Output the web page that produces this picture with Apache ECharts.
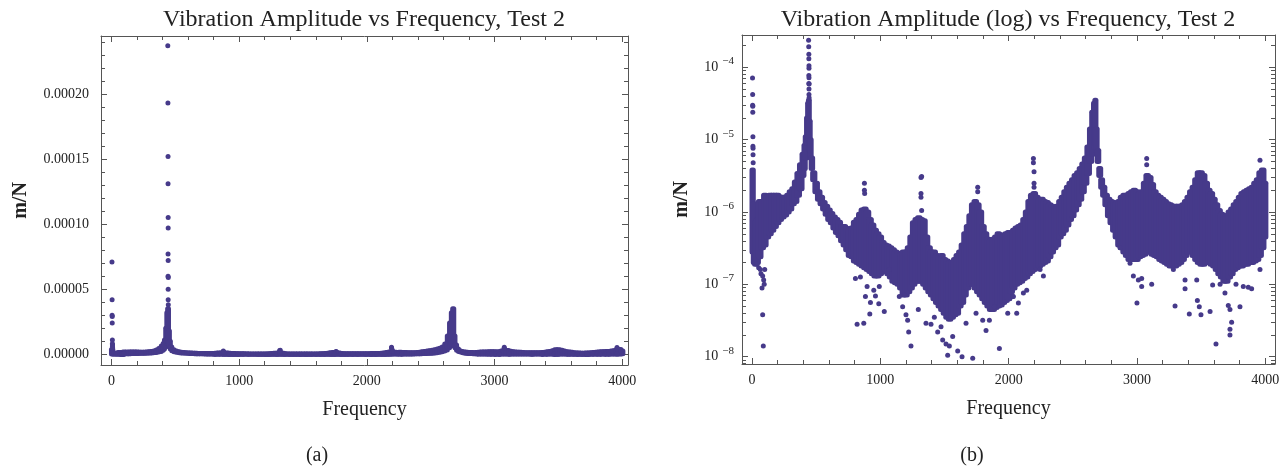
<!DOCTYPE html>
<html><head><meta charset="utf-8">
<script src="https://cdn.jsdelivr.net/npm/echarts@6/dist/echarts.min.js"></script>
<style>html,body{margin:0;padding:0;background:#fff}#c{width:1282px;height:469px}</style>
</head><body><div id="c"></div>
<script>
// ---- data (m/N vs Hz) ----
const bandFreq = [5,15,25,40,60,80,100,120,140,160,180,200,220,240,260,280,300,320,340,360,380,400,410,420,430,437,443,450,457,465,480,500,520,540,560,580,600,620,640,660,680,700,720,740,760,780,800,820,840,860,880,900,920,940,960,980,1000,1020,1040,1060,1080,1100,1120,1140,1160,1180,1200,1220,1240,1260,1280,1300,1320,1340,1360,1380,1400,1420,1440,1460,1480,1500,1520,1540,1560,1580,1600,1620,1640,1660,1680,1700,1720,1740,1760,1780,1800,1820,1840,1860,1880,1900,1920,1940,1960,1980,2000,2020,2040,2060,2080,2100,2120,2140,2160,2180,2200,2220,2240,2260,2280,2300,2320,2340,2360,2380,2400,2420,2440,2460,2480,2500,2520,2540,2560,2580,2600,2620,2640,2655,2668,2676,2685,2695,2710,2725,2740,2760,2780,2800,2820,2840,2860,2880,2900,2920,2940,2960,2980,3000,3020,3040,3060,3080,3100,3120,3140,3160,3180,3200,3220,3240,3260,3280,3300,3320,3340,3360,3380,3400,3420,3440,3460,3480,3500,3520,3540,3560,3580,3600,3620,3640,3660,3680,3700,3720,3740,3760,3780,3800,3820,3840,3860,3880,3900,3920,3940,3960,3980,4000];
const bandLow = [2.8e-7,2.0e-7,1.9e-7,2.0e-7,2.4e-7,3.2e-7,3.5e-7,4.5e-7,5.0e-7,5.6e-7,6.3e-7,7.1e-7,7.9e-7,8.5e-7,9.1e-7,1.0e-6,1.1e-6,1.3e-6,1.4e-6,1.7e-6,2.1e-6,3.2e-6,4.0e-6,5.6e-6,8.9e-6,1.0e-5,1.0e-5,7.1e-6,5.6e-6,4.0e-6,2.8e-6,1.9e-6,1.5e-6,1.3e-6,1.1e-6,9.3e-7,7.9e-7,7.1e-7,6.0e-7,5.2e-7,4.7e-7,4.0e-7,3.5e-7,3.0e-7,2.5e-7,2.4e-7,2.1e-7,2.0e-7,1.9e-7,1.8e-7,1.7e-7,1.6e-7,1.5e-7,1.4e-7,1.3e-7,1.3e-7,1.4e-7,1.5e-7,1.6e-7,1.4e-7,1.26e-7,1.1e-7,1.05e-7,1.0e-7,8.9e-8,7.1e-8,7.1e-8,7.9e-8,8.9e-8,1.0e-7,1.1e-7,1.1e-7,1.1e-7,1.0e-7,8.9e-8,7.9e-8,7.1e-8,6.3e-8,5.6e-8,5.0e-8,4.5e-8,4.0e-8,3.5e-8,3.3e-8,3.5e-8,3.8e-8,4.0e-8,5.0e-8,5.6e-8,7.1e-8,8.9e-8,1.0e-7,1.0e-7,8.9e-8,7.9e-8,7.1e-8,6.3e-8,5.6e-8,5.0e-8,4.5e-8,4.5e-8,4.8e-8,5.0e-8,5.2e-8,5.6e-8,6.0e-8,6.3e-8,7.9e-8,8.9e-8,1.0e-7,1.05e-7,1.1e-7,1.2e-7,1.26e-7,1.4e-7,1.5e-7,1.6e-7,1.7e-7,1.8e-7,1.9e-7,2.0e-7,2.1e-7,2.4e-7,2.8e-7,3.2e-7,3.5e-7,4.5e-7,5.0e-7,5.6e-7,6.6e-7,7.9e-7,8.9e-7,1.07e-6,1.26e-6,1.5e-6,1.9e-6,2.5e-6,3.4e-6,5.0e-6,6.3e-6,7.9e-6,8.9e-6,7.1e-6,5.0e-6,3.2e-6,2.2e-6,1.7e-6,1.26e-6,8.9e-7,7.1e-7,5.6e-7,4.5e-7,3.5e-7,3.2e-7,2.8e-7,2.5e-7,2.2e-7,2.2e-7,2.2e-7,2.2e-7,2.4e-7,2.5e-7,2.6e-7,2.8e-7,2.8e-7,2.6e-7,2.5e-7,2.4e-7,2.2e-7,2.1e-7,2.0e-7,1.9e-7,1.8e-7,1.8e-7,1.8e-7,1.9e-7,2.0e-7,2.2e-7,2.5e-7,2.8e-7,2.8e-7,2.5e-7,2.2e-7,2.0e-7,1.9e-7,1.9e-7,2.0e-7,2.0e-7,1.9e-7,1.8e-7,1.6e-7,1.4e-7,1.26e-7,1.1e-7,1.1e-7,1.26e-7,1.4e-7,1.6e-7,1.7e-7,1.8e-7,1.8e-7,1.9e-7,1.9e-7,2.0e-7,2.0e-7,2.1e-7,2.2e-7,2.5e-7,3.2e-7,4.5e-7];
const bandHigh = [3.8e-6,1.3e-6,7.1e-7,7.9e-7,1.4e-6,1.4e-6,1.7e-6,1.6e-6,1.7e-6,1.7e-6,1.7e-6,1.7e-6,1.6e-6,1.6e-6,1.6e-6,1.7e-6,1.9e-6,2.1e-6,2.6e-6,3.4e-6,4.5e-6,6.3e-6,8.3e-6,1.1e-5,2.0e-5,3.2e-5,3.5e-5,1.8e-5,1.0e-5,5.6e-6,3.5e-6,2.5e-6,1.9e-6,1.6e-6,1.35e-6,1.2e-6,1.07e-6,9.5e-7,8.5e-7,7.9e-7,7.2e-7,6.3e-7,6.3e-7,5.9e-7,5.6e-7,6.0e-7,7.2e-7,7.9e-7,9.3e-7,1.07e-6,1.1e-6,1.0e-6,7.9e-7,6.6e-7,5.6e-7,5.0e-7,4.5e-7,3.8e-7,3.5e-7,3.4e-7,3.2e-7,3.0e-7,2.8e-7,2.7e-7,2.6e-7,2.8e-7,2.8e-7,3.2e-7,4.5e-7,7.1e-7,7.9e-7,8.3e-7,7.9e-7,7.6e-7,4.5e-7,3.2e-7,2.8e-7,2.8e-7,2.5e-7,2.4e-7,2.5e-7,2.2e-7,2.1e-7,2.0e-7,2.0e-7,2.2e-7,2.5e-7,2.8e-7,3.5e-7,5.0e-7,6.3e-7,8.9e-7,1.26e-6,1.4e-6,1.26e-6,1.0e-6,6.3e-7,5.0e-7,4.2e-7,4.0e-7,4.2e-7,4.5e-7,5.0e-7,4.8e-7,4.7e-7,5.0e-7,5.2e-7,5.2e-7,5.6e-7,6.0e-7,6.3e-7,6.6e-7,7.9e-7,1.0e-6,1.4e-6,1.7e-6,1.8e-6,1.6e-6,1.45e-6,1.5e-6,1.4e-6,1.35e-6,1.26e-6,1.2e-6,1.15e-6,1.2e-6,1.4e-6,1.6e-6,1.9e-6,2.2e-6,2.5e-6,2.8e-6,3.2e-6,3.5e-6,4.0e-6,4.6e-6,5.6e-6,7.9e-6,1.4e-5,2.4e-5,3.2e-5,3.5e-5,1.4e-5,7.1e-6,4.0e-6,2.8e-6,2.2e-6,1.7e-6,1.5e-6,1.4e-6,1.35e-6,1.3e-6,1.4e-6,1.6e-6,1.7e-6,1.7e-6,1.8e-6,1.9e-6,2.0e-6,1.9e-6,1.8e-6,1.9e-6,2.5e-6,3.2e-6,3.0e-6,2.4e-6,1.9e-6,1.7e-6,1.6e-6,1.5e-6,1.4e-6,1.3e-6,1.26e-6,1.2e-6,1.2e-6,1.2e-6,1.2e-6,1.26e-6,1.4e-6,1.6e-6,1.9e-6,2.2e-6,2.8e-6,3.5e-6,3.5e-6,3.2e-6,2.5e-6,2.0e-6,1.8e-6,1.5e-6,1.26e-6,1.05e-6,9.3e-7,8.9e-7,8.9e-7,1.0e-6,1.1e-6,1.26e-6,1.4e-6,1.6e-6,1.8e-6,1.9e-6,2.0e-6,2.1e-6,2.2e-6,2.5e-6,2.8e-6,3.5e-6,3.8e-6,2.5e-6];
const pointFreq = [4,5,5,6,6,7,7,8,8,9, 39,52,65,70,78,83,91,95,83,88,99, 441,442,443,443,444,444,443,444,443,445,444,444,445, 806,845,819,871,884,897,918,923,949,962,988,876,876,878, 992,1031,1070,1148,1174,1200,1213,1221,1239,1296,1317,1322,1317,1317,1322,1356,1395,1421,1447,1473,1486,1512,1525,1538,1564,1603,1637,1668,1720,1759,1759,1746,1798,1824,1850,1889,1928,1993,2032, 2037,2063,2076,2115,2141,2193,2193,2198,2198,2198,2245,2271,3000,2972,3011,3037,2868,2946, 3037,3076,3076,3115,3284,3297,3375,3375,3408,3466,3471,3486,3499,3570,3590,3616,3648,3686,3712,3725,3738,3725,3725,3772,3803,3829,3868,3894,3959,3959];
const pointAmp = [7.1e-5,4.2e-5,3.0e-5,2.9e-5,2.4e-5,1.1e-5,8.1e-6,7.6e-6,6.2e-6,4.8e-6, 1.9e-7,1.7e-7,1.6e-7,1.4e-7,8.9e-8,1.3e-7,1.15e-7,1.0e-7,3.8e-8,1.4e-8,1.6e-7, 2.37e-4,1.93e-4,1.52e-4,1.31e-4,1.05e-4,9.7e-5,7.7e-5,7.2e-5,6.0e-5,5.9e-5,5.0e-5,4.2e-5,3.8e-5, 1.2e-7,1.26e-7,2.8e-8,2.9e-8,6.8e-8,9.3e-8,3.9e-8,5.6e-8,8.3e-8,6.9e-8,5.4e-8,2.5e-6,2.0e-6,1.8e-6, 9.3e-8,4.2e-8,1.6e-7,6.8e-8,4.9e-8,3.8e-8,3.2e-8,2.2e-8,1.4e-8,4.5e-8,3.0e-6,3.1e-6,1.8e-6,1.6e-6,1.05e-6,2.9e-8,2.8e-8,3.5e-8,2.2e-8,2.6e-8,1.7e-8,1.5e-8,1.05e-8,1.4e-8,1.9e-8,1.2e-8,1.0e-8,2.9e-8,9.5e-9,2.2e-6,1.9e-6,4.0e-8,3.2e-8,2.3e-8,3.2e-8,4.9e-8,1.3e-8,4.0e-8,6.8e-8, 6.8e-8,4.0e-8,5.5e-8,7.6e-8,8.3e-8,5.5e-6,4.8e-6,3.6e-6,2.5e-6,2.2e-6,1.6e-7,1.3e-7,5.5e-8,1.3e-7,1.15e-7,1.2e-7,3.2e-7,1.95e-7, 9.3e-8,5.5e-6,4.5e-6,1.0e-7,1.6e-7,5.0e-8,1.15e-7,8.7e-8,3.9e-8,1.15e-7,6.0e-8,4.9e-8,3.8e-8,4.2e-8,9.8e-8,1.5e-8,1.0e-7,7.6e-8,5.1e-8,4.5e-8,3.0e-8,2.4e-8,2.0e-8,1.0e-7,4.9e-8,9.3e-8,9.1e-8,8.7e-8,5.2e-6,1.6e-7];
// ---- tick positions ----
const freqTicks = [0,1000,2000,3000,4000];
const freqMinorTicks = [200,400,600,800,1200,1400,1600,1800,2200,2400,2600,2800,3200,3400,3600,3800];
const linTicks = [0,0.00005,0.0001,0.00015,0.0002];
const linMinorTicks = [0.00001,0.00002,0.00003,0.00004,0.00006,0.00007,0.00008,0.00009,0.00011,0.00012,0.00013,0.00014,0.00016,0.00017,0.00018,0.00019,0.00021,0.00022,0.00023,0.00024];
const logTicks = [1e-8,1e-7,1e-6,1e-5,1e-4];
const logMinorTicks = [8e-9,9e-9,2e-8,3e-8,4e-8,5e-8,6e-8,7e-8,8e-8,9e-8,2e-7,3e-7,4e-7,5e-7,6e-7,7e-7,8e-7,9e-7,2e-6,3e-6,4e-6,5e-6,6e-6,7e-6,8e-6,9e-6,2e-5,3e-5,4e-5,5e-5,6e-5,7e-5,8e-5,9e-5,2e-4];

const FONT = "'Liberation Serif','Times New Roman',serif";
const DOT = '#463a8a';
const FRAME = '#555555';
const TXT = '#222222';

const bandData = bandFreq.map((f, i) => [f, bandLow[i], bandHigh[i]]);
const pointData = pointFreq.map((f, i) => [f, pointAmp[i]]);

function xAx(grid, pos, min, max, ticks, len, line, labels, name) {
  return {
    type: 'value', gridIndex: grid, position: pos, min: min, max: max,
    splitLine: {show: false},
    axisLine: {show: line, onZero: false, lineStyle: {color: FRAME, width: 1}},
    axisTick: {show: true, inside: true, length: len, customValues: ticks, lineStyle: {color: FRAME, width: 1}},
    axisLabel: labels ? {show: true, customValues: ticks, margin: 9, color: TXT, fontFamily: FONT, fontSize: 14, formatter: v => String(v)} : {show: false},
    name: name || '', nameLocation: 'middle', nameGap: 35, nameMoveOverlap: false,
    nameTextStyle: {fontFamily: FONT, fontSize: 20, color: TXT}
  };
}
function yAx(grid, pos, type, min, max, ticks, len, line, labelCfg, name, gap) {
  const a = {
    type: type, gridIndex: grid, position: pos, min: min, max: max,
    splitLine: {show: false},
    axisLine: {show: line, onZero: false, lineStyle: {color: FRAME, width: 1}},
    axisTick: {show: true, inside: true, length: len, customValues: ticks, lineStyle: {color: FRAME, width: 1}},
    axisLabel: labelCfg ? Object.assign({show: true, customValues: ticks}, labelCfg) : {show: false},
    name: name || '', nameLocation: 'middle', nameGap: gap || 0, nameMoveOverlap: false,
    nameTextStyle: {fontFamily: FONT, fontSize: 20, fontWeight: 'bold', color: TXT}
  };
  if (type === 'log') a.logBase = 10;
  return a;
}

const X0 = [-82, 4045], X1 = [-78, 4076];
const Y0 = [-0.0000082, 0.0002445], Y1 = [7.92e-9, 2.80e-4];

const linLabel = {margin: 12, color: TXT, fontFamily: FONT, fontSize: 14, formatter: v => v.toFixed(5)};
const logLabel = {
  margin: 8, color: TXT, fontFamily: FONT,
  formatter: v => '{b|10}{s|\u2212' + Math.abs(Math.round(Math.log10(v))) + '}',
  rich: {
    b: {fontSize: 14, fontFamily: FONT, color: TXT},
    s: {fontSize: 11, fontFamily: FONT, color: TXT, padding: [0, 0, 12, 4]}
  }
};

function bandSeries(xi, yi) {
  return {
    type: 'custom', xAxisIndex: xi, yAxisIndex: yi, data: bandData, clip: true, silent: true,
    encode: {x: 0, y: [1, 2]},
    renderItem: function (params, api) {
      const i = params.dataIndex;
      const f = bandFreq[i];
      const fp = i > 0 ? bandFreq[i - 1] : f - 10;
      const fn = i < bandFreq.length - 1 ? bandFreq[i + 1] : f + 10;
      const top = api.coord([f, api.value(2)]);
      const bot = api.coord([f, api.value(1)]);
      const xl = api.coord([(f + fp) / 2, api.value(1)])[0];
      const xr = api.coord([(f + fn) / 2, api.value(1)])[0];
      const r = 2.5;
      return {
        type: 'rect',
        shape: {x: xl - r, y: top[1] - r, width: xr - xl + 2 * r, height: bot[1] - top[1] + 2 * r, r: r},
        style: {fill: DOT, opacity: 1}
      };
    }
  };
}
function pointSeries(xi, yi) {
  return {
    type: 'scatter', xAxisIndex: xi, yAxisIndex: yi, data: pointData, symbol: 'circle', symbolSize: 5,
    itemStyle: {color: DOT, opacity: 1}, clip: true, silent: true
  };
}

const chart = echarts.init(document.getElementById('c'), null, {renderer: 'canvas'});
chart.setOption({
  animation: false,
  backgroundColor: '#ffffff',
  grid: [
    {left: 101, top: 36, width: 527, height: 329, containLabel: false, outerBoundsMode: 'none'},
    {left: 742, top: 35, width: 533, height: 329, containLabel: false, outerBoundsMode: 'none'}
  ],
  xAxis: [
    xAx(0, 'bottom', X0[0], X0[1], freqTicks, 6, true, true, 'Frequency'),
    xAx(0, 'bottom', X0[0], X0[1], freqMinorTicks, 4, false, false),
    xAx(0, 'top', X0[0], X0[1], freqTicks, 6, true, false),
    xAx(0, 'top', X0[0], X0[1], freqMinorTicks, 4, false, false),
    xAx(1, 'bottom', X1[0], X1[1], freqTicks, 6, true, true, 'Frequency'),
    xAx(1, 'bottom', X1[0], X1[1], freqMinorTicks, 4, false, false),
    xAx(1, 'top', X1[0], X1[1], freqTicks, 6, true, false),
    xAx(1, 'top', X1[0], X1[1], freqMinorTicks, 4, false, false)
  ],
  yAxis: [
    yAx(0, 'left', 'value', Y0[0], Y0[1], linTicks, 6, true, linLabel, 'm/N', 70),
    yAx(0, 'left', 'value', Y0[0], Y0[1], linMinorTicks, 4, false, null),
    yAx(0, 'right', 'value', Y0[0], Y0[1], linTicks, 6, true, null),
    yAx(0, 'right', 'value', Y0[0], Y0[1], linMinorTicks, 4, false, null),
    yAx(1, 'left', 'log', Y1[0], Y1[1], logTicks, 6, true, logLabel, 'm/N', 50),
    yAx(1, 'left', 'log', Y1[0], Y1[1], logMinorTicks, 4, false, null),
    yAx(1, 'right', 'log', Y1[0], Y1[1], logTicks, 6, true, null),
    yAx(1, 'right', 'log', Y1[0], Y1[1], logMinorTicks, 4, false, null)
  ],
  series: [
    bandSeries(0, 0), pointSeries(0, 0),
    bandSeries(4, 4), pointSeries(4, 4)
  ],
  graphic: [
    {type: 'text', x: 364, y: 20, style: {text: 'Vibration Amplitude vs Frequency, Test 2', font: "24px 'Liberation Serif'", fill: TXT, align: 'center', verticalAlign: 'middle', textAlign: 'center', textVerticalAlign: 'middle'}},
    {type: 'text', x: 1008, y: 20, style: {text: 'Vibration Amplitude (log) vs Frequency, Test 2', font: "24px 'Liberation Serif'", fill: TXT, align: 'center', verticalAlign: 'middle', textAlign: 'center', textVerticalAlign: 'middle'}},
    {type: 'text', x: 317, y: 456, style: {text: '(a)', font: "20px 'Liberation Serif'", fill: TXT, align: 'center', verticalAlign: 'middle', textAlign: 'center', textVerticalAlign: 'middle'}},
    {type: 'text', x: 972, y: 456, style: {text: '(b)', font: "20px 'Liberation Serif'", fill: TXT, align: 'center', verticalAlign: 'middle', textAlign: 'center', textVerticalAlign: 'middle'}}
  ]
});
</script>
</body></html>
